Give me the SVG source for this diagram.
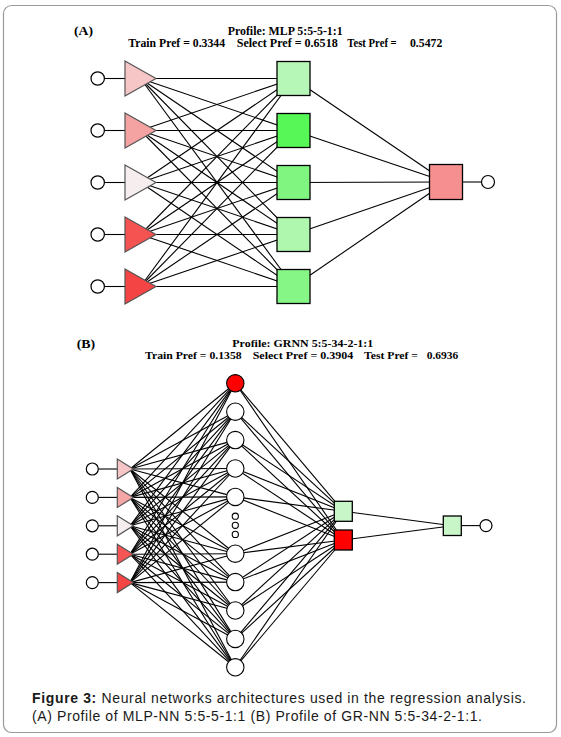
<svg xmlns="http://www.w3.org/2000/svg" width="561" height="737" viewBox="0 0 561 737">
<style>
.t{font-family:"Liberation Serif","Times New Roman",serif;font-weight:bold;font-size:12px;fill:#000}
.ts{font-size:11px}
.cap{font-family:"Liberation Sans",Arial,sans-serif;font-size:14px;fill:#1a1a1a}
.c line{stroke:#000;stroke-width:1.1}
.io{fill:#fff;stroke:#000;stroke-width:1.2}
.tri{stroke:#555;stroke-width:1.2}
.sq{stroke:#000;stroke-width:1.3}
.hc{fill:#fff;stroke:#000;stroke-width:1.1}
</style>
<rect x="3.5" y="5.5" width="553" height="727" rx="8" fill="#fff" stroke="#9a9a9a" stroke-width="1.2"/>
<g id="titleA">
<text class="t" x="74" y="35" textLength="19" lengthAdjust="spacingAndGlyphs">(A)</text>
<text class="t" x="227.7" y="34.5" textLength="115" lengthAdjust="spacingAndGlyphs">Profile: MLP 5:5-5-1:1</text>
<text class="t" x="128.3" y="47" textLength="96.7" lengthAdjust="spacingAndGlyphs">Train Pref = 0.3344</text>
<text class="t" x="236.7" y="47" textLength="101" lengthAdjust="spacingAndGlyphs">Select Pref = 0.6518</text>
<text class="t" x="347.3" y="47" textLength="49.4" lengthAdjust="spacingAndGlyphs">Test Pref =</text>
<text class="t" x="410" y="47" textLength="32.3" lengthAdjust="spacingAndGlyphs">0.5472</text>
</g>
<g id="connectorsA" class="c">
<line x1="104.4" y1="78.5" x2="125" y2="78.5"/>
<line x1="104.4" y1="130.5" x2="125" y2="130.5"/>
<line x1="104.4" y1="182.5" x2="125" y2="182.5"/>
<line x1="104.4" y1="234.5" x2="125" y2="234.5"/>
<line x1="104.4" y1="286.5" x2="125" y2="286.5"/>
<line x1="140.5" y1="78.5" x2="293.5" y2="78.5"/>
<line x1="140.5" y1="78.5" x2="293.5" y2="130.5"/>
<line x1="140.5" y1="78.5" x2="293.5" y2="182.5"/>
<line x1="140.5" y1="78.5" x2="293.5" y2="234.5"/>
<line x1="140.5" y1="78.5" x2="293.5" y2="286.5"/>
<line x1="140.5" y1="130.5" x2="293.5" y2="78.5"/>
<line x1="140.5" y1="130.5" x2="293.5" y2="130.5"/>
<line x1="140.5" y1="130.5" x2="293.5" y2="182.5"/>
<line x1="140.5" y1="130.5" x2="293.5" y2="234.5"/>
<line x1="140.5" y1="130.5" x2="293.5" y2="286.5"/>
<line x1="140.5" y1="182.5" x2="293.5" y2="78.5"/>
<line x1="140.5" y1="182.5" x2="293.5" y2="130.5"/>
<line x1="140.5" y1="182.5" x2="293.5" y2="182.5"/>
<line x1="140.5" y1="182.5" x2="293.5" y2="234.5"/>
<line x1="140.5" y1="182.5" x2="293.5" y2="286.5"/>
<line x1="140.5" y1="234.5" x2="293.5" y2="78.5"/>
<line x1="140.5" y1="234.5" x2="293.5" y2="130.5"/>
<line x1="140.5" y1="234.5" x2="293.5" y2="182.5"/>
<line x1="140.5" y1="234.5" x2="293.5" y2="234.5"/>
<line x1="140.5" y1="234.5" x2="293.5" y2="286.5"/>
<line x1="140.5" y1="286.5" x2="293.5" y2="78.5"/>
<line x1="140.5" y1="286.5" x2="293.5" y2="130.5"/>
<line x1="140.5" y1="286.5" x2="293.5" y2="182.5"/>
<line x1="140.5" y1="286.5" x2="293.5" y2="234.5"/>
<line x1="140.5" y1="286.5" x2="293.5" y2="286.5"/>
<line x1="293.5" y1="78.5" x2="446" y2="182"/>
<line x1="293.5" y1="130.5" x2="446" y2="182"/>
<line x1="293.5" y1="182.5" x2="446" y2="182"/>
<line x1="293.5" y1="234.5" x2="446" y2="182"/>
<line x1="293.5" y1="286.5" x2="446" y2="182"/>
<line x1="462.5" y1="182" x2="481.5" y2="182"/>
</g>
<g id="A-in1"><circle class="io" cx="97.7" cy="78.5" r="6.7"/></g>
<g id="A-in2"><circle class="io" cx="97.7" cy="130.5" r="6.7"/></g>
<g id="A-in3"><circle class="io" cx="97.7" cy="182.5" r="6.7"/></g>
<g id="A-in4"><circle class="io" cx="97.7" cy="234.5" r="6.7"/></g>
<g id="A-in5"><circle class="io" cx="97.7" cy="286.5" r="6.7"/></g>
<g id="A-tri1"><polygon class="tri" fill="#f6c6c6" points="125,61 156,78.5 125,96"/></g>
<g id="A-tri2"><polygon class="tri" fill="#f4a2a2" points="125,113 156,130.5 125,148"/></g>
<g id="A-tri3"><polygon class="tri" fill="#f6eeee" points="125,165 156,182.5 125,200"/></g>
<g id="A-tri4"><polygon class="tri" fill="#f55252" points="125,217 156,234.5 125,252"/></g>
<g id="A-tri5"><polygon class="tri" fill="#f54444" points="125,269 156,286.5 125,304"/></g>
<g id="A-h1"><rect class="sq" fill="#b6f6b6" x="277" y="61.5" width="33" height="34"/></g>
<g id="A-h2"><rect class="sq" fill="#58f758" x="277" y="113.5" width="33" height="34"/></g>
<g id="A-h3"><rect class="sq" fill="#80f680" x="277" y="165.5" width="33" height="34"/></g>
<g id="A-h4"><rect class="sq" fill="#aff6af" x="277" y="217.5" width="33" height="34"/></g>
<g id="A-h5"><rect class="sq" fill="#86f686" x="277" y="269.5" width="33" height="34"/></g>
<g id="A-out"><rect class="sq" fill="#f69090" x="429.5" y="164.5" width="33" height="35"/></g>
<g id="A-outc"><circle class="io" cx="488" cy="182" r="6.5"/></g>

<g id="titleB">
<text class="t" x="76.7" y="348" textLength="18.5" lengthAdjust="spacingAndGlyphs">(B)</text>
<text class="t ts" x="232.3" y="346.8" textLength="141" lengthAdjust="spacingAndGlyphs">Profile: GRNN 5:5-34-2-1:1</text>
<text class="t ts" x="145" y="358.8" textLength="96.7" lengthAdjust="spacingAndGlyphs">Train Pref = 0.1358</text>
<text class="t ts" x="252.7" y="358.8" textLength="100.6" lengthAdjust="spacingAndGlyphs">Select Pref = 0.3904</text>
<text class="t ts" x="364" y="358.8" textLength="54" lengthAdjust="spacingAndGlyphs">Test Pref =</text>
<text class="t ts" x="426.7" y="358.8" textLength="31.6" lengthAdjust="spacingAndGlyphs">0.6936</text>
</g>
<g id="connectorsB" class="c">
<line x1="98.3" y1="469" x2="117.3" y2="469"/>
<line x1="98.3" y1="497.4" x2="117.3" y2="497.4"/>
<line x1="98.3" y1="525.8" x2="117.3" y2="525.8"/>
<line x1="98.3" y1="554.2" x2="117.3" y2="554.2"/>
<line x1="98.3" y1="582.6" x2="117.3" y2="582.6"/>
<line x1="130" y1="469" x2="235.3" y2="383.3"/>
<line x1="130" y1="469" x2="235.3" y2="411.7"/>
<line x1="130" y1="469" x2="235.3" y2="440.1"/>
<line x1="130" y1="469" x2="235.3" y2="468.5"/>
<line x1="130" y1="469" x2="235.3" y2="496.9"/>
<line x1="130" y1="469" x2="235.3" y2="553.7"/>
<line x1="130" y1="469" x2="235.3" y2="582.1"/>
<line x1="130" y1="469" x2="235.3" y2="610.5"/>
<line x1="130" y1="469" x2="235.3" y2="638.9"/>
<line x1="130" y1="469" x2="235.3" y2="667.3"/>
<line x1="130" y1="497.4" x2="235.3" y2="383.3"/>
<line x1="130" y1="497.4" x2="235.3" y2="411.7"/>
<line x1="130" y1="497.4" x2="235.3" y2="440.1"/>
<line x1="130" y1="497.4" x2="235.3" y2="468.5"/>
<line x1="130" y1="497.4" x2="235.3" y2="496.9"/>
<line x1="130" y1="497.4" x2="235.3" y2="553.7"/>
<line x1="130" y1="497.4" x2="235.3" y2="582.1"/>
<line x1="130" y1="497.4" x2="235.3" y2="610.5"/>
<line x1="130" y1="497.4" x2="235.3" y2="638.9"/>
<line x1="130" y1="497.4" x2="235.3" y2="667.3"/>
<line x1="130" y1="525.8" x2="235.3" y2="383.3"/>
<line x1="130" y1="525.8" x2="235.3" y2="411.7"/>
<line x1="130" y1="525.8" x2="235.3" y2="440.1"/>
<line x1="130" y1="525.8" x2="235.3" y2="468.5"/>
<line x1="130" y1="525.8" x2="235.3" y2="496.9"/>
<line x1="130" y1="525.8" x2="235.3" y2="553.7"/>
<line x1="130" y1="525.8" x2="235.3" y2="582.1"/>
<line x1="130" y1="525.8" x2="235.3" y2="610.5"/>
<line x1="130" y1="525.8" x2="235.3" y2="638.9"/>
<line x1="130" y1="525.8" x2="235.3" y2="667.3"/>
<line x1="130" y1="554.2" x2="235.3" y2="383.3"/>
<line x1="130" y1="554.2" x2="235.3" y2="411.7"/>
<line x1="130" y1="554.2" x2="235.3" y2="440.1"/>
<line x1="130" y1="554.2" x2="235.3" y2="468.5"/>
<line x1="130" y1="554.2" x2="235.3" y2="496.9"/>
<line x1="130" y1="554.2" x2="235.3" y2="553.7"/>
<line x1="130" y1="554.2" x2="235.3" y2="582.1"/>
<line x1="130" y1="554.2" x2="235.3" y2="610.5"/>
<line x1="130" y1="554.2" x2="235.3" y2="638.9"/>
<line x1="130" y1="554.2" x2="235.3" y2="667.3"/>
<line x1="130" y1="582.6" x2="235.3" y2="383.3"/>
<line x1="130" y1="582.6" x2="235.3" y2="411.7"/>
<line x1="130" y1="582.6" x2="235.3" y2="440.1"/>
<line x1="130" y1="582.6" x2="235.3" y2="468.5"/>
<line x1="130" y1="582.6" x2="235.3" y2="496.9"/>
<line x1="130" y1="582.6" x2="235.3" y2="553.7"/>
<line x1="130" y1="582.6" x2="235.3" y2="582.1"/>
<line x1="130" y1="582.6" x2="235.3" y2="610.5"/>
<line x1="130" y1="582.6" x2="235.3" y2="638.9"/>
<line x1="130" y1="582.6" x2="235.3" y2="667.3"/>
<line x1="235.3" y1="383.3" x2="343.3" y2="511.3"/>
<line x1="235.3" y1="383.3" x2="343.3" y2="540"/>
<line x1="235.3" y1="411.7" x2="343.3" y2="511.3"/>
<line x1="235.3" y1="411.7" x2="343.3" y2="540"/>
<line x1="235.3" y1="440.1" x2="343.3" y2="511.3"/>
<line x1="235.3" y1="440.1" x2="343.3" y2="540"/>
<line x1="235.3" y1="468.5" x2="343.3" y2="511.3"/>
<line x1="235.3" y1="468.5" x2="343.3" y2="540"/>
<line x1="235.3" y1="496.9" x2="343.3" y2="511.3"/>
<line x1="235.3" y1="496.9" x2="343.3" y2="540"/>
<line x1="235.3" y1="553.7" x2="343.3" y2="511.3"/>
<line x1="235.3" y1="553.7" x2="343.3" y2="540"/>
<line x1="235.3" y1="582.1" x2="343.3" y2="511.3"/>
<line x1="235.3" y1="582.1" x2="343.3" y2="540"/>
<line x1="235.3" y1="610.5" x2="343.3" y2="511.3"/>
<line x1="235.3" y1="610.5" x2="343.3" y2="540"/>
<line x1="235.3" y1="638.9" x2="343.3" y2="511.3"/>
<line x1="235.3" y1="638.9" x2="343.3" y2="540"/>
<line x1="235.3" y1="667.3" x2="343.3" y2="511.3"/>
<line x1="235.3" y1="667.3" x2="343.3" y2="540"/>
<line x1="343.3" y1="511.3" x2="452.3" y2="525.7"/>
<line x1="343.3" y1="540" x2="452.3" y2="525.7"/>
<line x1="461.3" y1="525.6" x2="480" y2="525.6"/>
</g>
<g id="B-in1"><circle class="io" cx="92.3" cy="469" r="6"/></g>
<g id="B-in2"><circle class="io" cx="92.3" cy="497.4" r="6"/></g>
<g id="B-in3"><circle class="io" cx="92.3" cy="525.8" r="6"/></g>
<g id="B-in4"><circle class="io" cx="92.3" cy="554.2" r="6"/></g>
<g id="B-in5"><circle class="io" cx="92.3" cy="582.6" r="6"/></g>
<g id="B-tri1"><polygon class="tri" fill="#f6c6c6" points="117.3,459 133.3,469 117.3,479"/></g>
<g id="B-tri2"><polygon class="tri" fill="#f4a6a6" points="117.3,487.4 133.3,497.4 117.3,507.4"/></g>
<g id="B-tri3"><polygon class="tri" fill="#f6eeee" points="117.3,515.8 133.3,525.8 117.3,535.8"/></g>
<g id="B-tri4"><polygon class="tri" fill="#f55555" points="117.3,544.2 133.3,554.2 117.3,564.2"/></g>
<g id="B-tri5"><polygon class="tri" fill="#f54444" points="117.3,572.6 133.3,582.6 117.3,592.6"/></g>
<g id="B-r1"><circle class="hc" style="fill:#ff0000" cx="235.3" cy="383.3" r="8.7"/></g>
<g id="B-r2"><circle class="hc" cx="235.3" cy="411.7" r="8.7"/></g>
<g id="B-r3"><circle class="hc" cx="235.3" cy="440.1" r="8.7"/></g>
<g id="B-r4"><circle class="hc" cx="235.3" cy="468.5" r="8.7"/></g>
<g id="B-r5"><circle class="hc" cx="235.3" cy="496.9" r="8.7"/></g>
<g id="B-dots">
<circle class="hc" cx="235.3" cy="516.2" r="3.1"/>
<circle class="hc" cx="235.3" cy="525.3" r="3.1"/>
<circle class="hc" cx="235.3" cy="534.4" r="3.1"/>
</g>
<g id="B-r6"><circle class="hc" cx="235.3" cy="553.7" r="8.7"/></g>
<g id="B-r7"><circle class="hc" cx="235.3" cy="582.1" r="8.7"/></g>
<g id="B-r8"><circle class="hc" cx="235.3" cy="610.5" r="8.7"/></g>
<g id="B-r9"><circle class="hc" cx="235.3" cy="638.9" r="8.7"/></g>
<g id="B-r10"><circle class="hc" cx="235.3" cy="667.3" r="8.7"/></g>
<g id="B-s1"><rect class="sq" fill="#c8f6c8" x="334.3" y="501.3" width="18" height="20"/></g>
<g id="B-s2"><rect class="sq" fill="#ff0000" x="334.3" y="530" width="18" height="20"/></g>
<g id="B-out"><rect class="sq" fill="#c8f6c8" x="443.3" y="516" width="18" height="19.5"/></g>
<g id="B-outc"><circle class="io" cx="486" cy="525.6" r="6"/></g>

<g id="caption">
<text class="cap" x="32" y="703" textLength="494" lengthAdjust="spacing"><tspan font-weight="bold">Figure 3:</tspan> Neural networks architectures used in the regression analysis.</text>
<text class="cap" x="32" y="720.5" textLength="450" lengthAdjust="spacing">(A) Profile of MLP-NN 5:5-5-1:1 (B) Profile of GR-NN 5:5-34-2-1:1.</text>
</g>
</svg>
